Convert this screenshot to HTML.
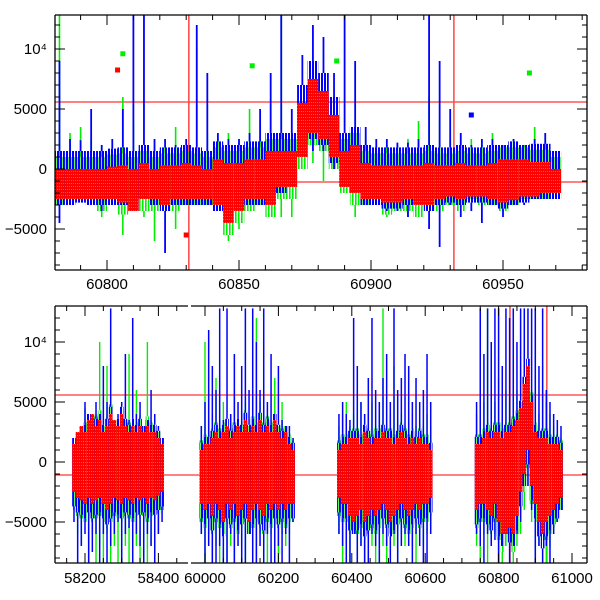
<!DOCTYPE html>
<html><head><meta charset="utf-8"><style>
html,body{margin:0;padding:0;background:#fff;}
svg{display:block;font-family:"Liberation Sans",Arial,sans-serif;}
</style></head><body>
<svg id="chart" width="600" height="600" viewBox="0 0 600 600" xmlns="http://www.w3.org/2000/svg">
<defs>
<clipPath id="clipTop"><rect x="55" y="15" width="532" height="255"/></clipPath>
<clipPath id="clipBot"><rect x="55" y="306" width="532" height="257"/></clipPath>
<pattern id="stripe-blue" width="3" height="4" patternUnits="userSpaceOnUse"><rect x="0" y="0" width="2" height="4" fill="#0000ff"/></pattern>
<pattern id="stripe-green" width="3" height="4" patternUnits="userSpaceOnUse"><rect x="1" y="0" width="1.6" height="4" fill="#00ee00"/></pattern>
<pattern id="stripe-red" width="2" height="3" patternUnits="userSpaceOnUse"><rect x="0" y="0" width="2" height="3" fill="#ff0000"/><rect x="1.4" y="0" width="0.6" height="1" fill="#ff8080"/></pattern>
</defs>
<g id="topData" clip-path="url(#clipTop)"></g>
<g id="botData" clip-path="url(#clipBot)"></g>
<g id="axes"></g>
</svg>
<script>
// ---------- TOP PANEL DATA (4-day bins, flux values) ----------
const topDays = [60782,60786,60790,60794,60798,60802,60806,60810,60814,60818,60822,60826,60830,60834,60838,60842,60846,60850,60854,60858,60862,60866,60870,60874,60878,60882,60886,60890,60894,60898,60902,60906,60910,60914,60918,60922,60926,60930,60934,60938,60942,60946,60950,60954,60958,60962,60966,60970];
const topRedLo = [-2500,-2500,-2500,-2500,-2500,-2500,-2800,-3500,-2500,-2500,-3000,-2500,-2500,-2500,-2500,-3000,-4500,-3500,-2500,-2500,-3000,-1500,-1500,1000,3000,2500,1000,-1500,-2000,-2500,-2500,-2800,-2800,-2500,-3000,-3000,-2500,-2300,-2500,-2300,-2300,-2500,-2800,-2600,-2300,-2300,-2000,-2000];
const topRedHi = [0,0,0,0,0,200,300,0,500,0,300,300,500,300,0,800,500,500,800,800,1500,1500,1500,5500,7500,6500,4500,1500,2000,500,300,300,300,300,300,500,300,300,500,300,300,500,800,800,800,600,600,0];
const topBlueLo = [-4500,-3000,-2800,-3000,-3500,-3000,-3000,-3500,-2500,-3000,-7000,-3000,-3000,-3000,-3000,-3500,-3000,-2800,-3000,-3000,-3000,-2000,-1500,1000,1500,1500,0,-1500,-2000,-3000,-3000,-3500,-3500,-4000,-3000,-5000,-6500,-3000,-4000,-3500,-4500,-3000,-4000,-3000,-3000,-2500,-2500,-2500];
const topBlueHi = [9000,2500,2400,5000,2000,2500,5000,12800,12800,2500,2500,2000,2500,12000,8000,3000,2500,2500,3000,5000,8000,12800,5000,9500,12000,11000,8000,12800,9000,3500,2500,2500,2200,2200,2500,12800,9000,5000,3000,2000,2500,2500,2000,2500,2000,2500,3000,1500];
const topGreenLo = [-3000,-2500,-2000,-2000,-4000,-2500,-5500,-3000,-4000,-6000,-3000,-5000,-3000,-3000,-3000,-3000,-6000,-5000,-3500,-3000,-4000,-4000,-4000,0,500,-1000,0,-2000,-4000,-3000,-2500,-4000,-3500,-4000,-4000,-3000,-3500,-3000,-3500,-2500,-3000,-3000,-3500,-3000,-2500,-2500,-2500,-2000];
const topGreenHi = [12800,3000,3500,2500,2000,1500,6000,4000,1500,2000,2000,3500,2500,10000,3000,2500,3000,2000,5000,4000,5500,12800,3000,4500,4500,4500,3500,2500,3500,3000,2000,2000,2000,2500,4000,6000,4000,2500,3000,2500,2000,3000,2000,2500,2000,3500,2500,1000];
const topOutDays = [60804,60806,60855,60960,60887,60938,60830];
const topOutVals = [8250,9600,8600,8000,9000,4500,-5500];
const topOutColor = ["red","green","green","green","green","blue","red"];

// ---------- BOTTOM PANEL DATA (10-day bins) ----------
const botDays = [58170,58180,58190,58200,58210,58220,58230,58240,58250,58260,58270,58280,58290,58300,58310,58320,58330,58340,58350,58360,58370,58380,58390,58400,58410,
59990,60000,60010,60020,60030,60040,60050,60060,60070,60080,60090,60100,60110,60120,60130,60140,60150,60160,60170,60180,60190,60200,60210,60220,60230,60240,
60365,60375,60385,60395,60405,60415,60425,60435,60445,60455,60465,60475,60485,60495,60505,60515,60525,60535,60545,60555,60565,60575,60585,60595,60605,60615,
60740,60750,60760,60770,60780,60790,60800,60810,60820,60830,60840,60850,60860,60870,60880,60890,60900,60910,60920,60930,60940,60950,60960,60970];
const botRedLo = [-2500,-3000,-3200,-3500,-3000,-3500,-3200,-3000,-3500,-4000,-3500,-3000,-3200,-3500,-3000,-3200,-3500,-3000,-3200,-3000,-3500,-3000,-3200,-2800,-2500,
-3500,-4000,-3500,-4500,-3500,-4000,-5000,-3500,-4000,-3500,-4500,-4000,-3500,-5000,-4000,-3500,-4000,-4500,-3500,-4000,-3500,-4000,-3500,-4000,-3500,-3500,
-3000,-3500,-3500,-4500,-5000,-4500,-4000,-5000,-4500,-4000,-4500,-4000,-3500,-4000,-5000,-4500,-4000,-3500,-4000,-4500,-4000,-3500,-4000,-3500,-3500,-3000,
-4000,-3500,-3500,-4000,-4500,-3500,-5000,-6000,-6000,-5500,-6000,-4500,-2500,-1000,1000,-2000,-3500,-5000,-6000,-5000,-4500,-4000,-3500,-3000];
const botRedHi = [1500,2500,3000,2500,3500,4000,3000,3500,2500,3000,4000,3500,3000,4000,3000,2500,3000,2500,3000,2500,3000,2500,2500,2000,1500,
1000,1500,1500,2000,2500,2000,2500,3000,2000,2500,3000,2500,3500,2500,3000,2500,3500,2500,3000,2500,3500,2500,2000,2500,1500,1000,
1000,1500,1500,2000,2000,2000,1500,2500,2000,1500,2000,2000,2500,2000,2000,1500,2000,2500,2000,1500,2000,1500,2000,1500,1500,1000,
1500,1500,2000,2500,2000,2500,2500,2000,2500,2500,3000,3500,4500,6500,8000,5000,2500,2000,2000,2000,1500,1500,1500,1000];
const botBlueLo = [-5000,-8400,-7000,-6000,-8400,-7500,-6000,-8400,-6000,-8400,-7000,-6000,-5000,-8400,-6000,-5500,-8400,-6000,-7000,-8400,-6000,-7000,-8400,-6000,-5000,
-6000,-8400,-7000,-8400,-8400,-7000,-8400,-8400,-6000,-8400,-7000,-8400,-8400,-6000,-8400,-8400,-7000,-8400,-6000,-8400,-8400,-7000,-8400,-6000,-8400,-5000,
-6000,-7000,-8400,-8400,-6000,-8400,-7000,-8400,-8400,-6000,-7000,-8400,-6000,-7000,-8400,-6000,-8400,-7000,-6000,-7000,-8400,-6000,-7000,-8400,-8400,-6000,
-6000,-7000,-8400,-6000,-7000,-6500,-8400,-7000,-6000,-8400,-7000,-6000,-5000,-2000,-2000,-4000,-8400,-7000,-8400,-7000,-8400,-6000,-5000,-4000];
const botBlueHi = [2000,2500,3000,5000,4000,3500,5000,4000,8000,5000,12800,3000,4000,5000,9000,3500,12000,4000,5000,3000,3500,6000,4000,3000,2000,
3000,5000,11000,8000,6000,12800,3500,12800,4000,9000,5000,8000,12800,6000,12800,10000,6000,12800,5000,9000,4000,8000,3500,3000,3000,2000,
4000,5000,4000,3500,12000,8000,5000,4000,7000,12000,6000,5000,7000,9000,5000,12800,6000,7000,9000,8000,5000,7000,5000,6000,9000,5000,
5000,12800,9000,12800,10000,12800,12800,8000,12800,12000,12800,10000,12800,12800,12800,12800,12800,8000,12800,6000,5000,4000,3500,3000];
const botGreenLo = [-4000,-6000,-7000,-5000,-8400,-6000,-8400,-7000,-8400,-6000,-8400,-7000,-8400,-8400,-7000,-8400,-8400,-7000,-8400,-8400,-8400,-7000,-8400,-6000,-4000,
-6000,-8400,-6000,-8400,-7000,-8400,-6000,-8400,-7000,-8400,-6000,-7000,-8400,-6000,-7000,-8400,-6000,-7000,-8400,-6000,-7000,-8400,-6000,-7000,-6000,-5000,
-6000,-8400,-7000,-8400,-6000,-8400,-7000,-8400,-6000,-7000,-8400,-6000,-7000,-8400,-6000,-7000,-8400,-6000,-7000,-6000,-7000,-8400,-6000,-7000,-6000,-5000,
-7000,-8400,-6000,-8400,-7000,-6000,-8400,-8400,-7000,-6000,-8400,-7000,-6000,-4000,-2000,-5000,-8400,-7000,-6000,-8400,-7000,-6000,-5000,-4000];
const botGreenHi = [1500,2500,3000,4500,3500,3000,4000,10000,3000,8000,5000,3500,3000,4000,3500,9000,3000,6000,4000,3000,10000,3500,3000,2500,1500,
3000,10000,6000,4000,7000,3500,5000,3000,4000,6000,3000,4000,5000,3000,4000,12000,5000,6000,4000,3500,7000,3000,5000,3000,2500,2000,
3000,4000,5000,3000,4000,6000,5000,3000,4000,5000,3000,4000,12800,3000,4000,8000,3500,4000,3000,3500,4000,3000,3500,3000,4000,3000,
4000,12800,5000,12800,6000,5000,7000,4000,6000,5000,12800,6000,5000,4000,5000,6000,12800,4000,8000,5000,4000,3000,2500,2000];

// reference lines
const hLines = [5583,-1083];
const vLineDays = [60831,60931.4];
const topXTicks = [60800,60850,60900,60950];
const botXTicks = [58200,58400,60000,60200,60400,60600,60800,61000];
const yTickVals = [-5000,0,5000,10000];
const yTickLabels = ["\u22125000","0","5000","10\u2074"];

const NS="http://www.w3.org/2000/svg";
const COL={red:"#ff0000",blue:"#0000ff",green:"#00ee00"};
function mk(tag,attrs,parent){const e=document.createElementNS(NS,tag);for(const k in attrs)e.setAttribute(k,attrs[k]);parent.appendChild(e);return e;}
const xTop=d=>107+(d-60800)*2.64;
const yTop=v=>169-v*0.012;
const xBot=d=>d<59000?85+(d-58200)*0.367:205+(d-60000)*0.367;
const yBot=v=>462-v*0.012;

function drawBins(g,days,binW,xf,yf,lo,hi,rLo,rHi,color,name,coreUp,coreDn,fill,spikeW){
  for(let i=0;i<days.length;i++){
    const x0=xf(days[i]-binW/2),x1=xf(days[i]+binW/2);
    const cHi=Math.min(hi[i],rHi[i]+coreUp), cLo=Math.max(lo[i],rLo[i]-coreDn);
    const r=mk('rect',{x:x0,y:yf(cHi),width:Math.max(1,x1-x0),height:Math.max(1,yf(cLo)-yf(cHi)),fill:fill},g);
    
    
    const xm=(x0+x1)/2;
    if(hi[i]>cHi){const l=mk('line',{x1:xm,x2:xm,y1:yf(hi[i]),y2:yf(cHi),stroke:COL[color],'stroke-width':spikeW},g);
      
      }
    if(lo[i]<cLo){const l=mk('line',{x1:xm,x2:xm,y1:yf(cLo),y2:yf(lo[i]),stroke:COL[color],'stroke-width':spikeW},g);
      
      }
  }
}
function refLines(g,yf,xf,y0,y1){
  hLines.forEach(v=>{const l=mk('line',{x1:55,x2:587,y1:yf(v),y2:yf(v),stroke:'#ff0000','stroke-width':1},g);
    
    });
  vLineDays.forEach(d=>{const l=mk('line',{x1:xf(d),x2:xf(d),y1:y0,y2:y1,stroke:'#ff4444','stroke-width':1.5},g);
    
    });
}
const gT=document.getElementById('topData'), gB=document.getElementById('botData');
refLines(gT,yTop,xTop,15,270);
drawBins(gT,topDays,4,xTop,yTop,topGreenLo,topGreenHi,topRedLo,topRedHi,'green','top-green',1000,1000,'url(#stripe-green)',1.6);
drawBins(gT,topDays,4,xTop,yTop,topBlueLo,topBlueHi,topRedLo,topRedHi,'blue','top-blue',1500,500,'url(#stripe-blue)',1.8);
drawBins(gT,topDays,4,xTop,yTop,topRedLo,topRedHi,topRedLo,topRedHi,'red','top-red',0,0,'url(#stripe-red)',2);
topOutDays.forEach((d,i)=>{const r=mk('rect',{x:xTop(d)-2.5,y:yTop(topOutVals[i])-2.5,width:5,height:5,fill:COL[topOutColor[i]]},gT);
  
  });
refLines(gB,yBot,xBot,306,563);
drawBins(gB,botDays,10,xBot,yBot,botGreenLo,botGreenHi,botRedLo,botRedHi,'green','bottom-green',800,1500,'url(#stripe-green)',1.4);
drawBins(gB,botDays,10,xBot,yBot,botBlueLo,botBlueHi,botRedLo,botRedHi,'blue','bottom-blue',600,1200,'url(#stripe-blue)',1.5);
drawBins(gB,botDays,10,xBot,yBot,botRedLo,botRedHi,botRedLo,botRedHi,'red','bottom-red',0,0,'url(#stripe-red)',1.5);

// ---------- AXES ----------
const ax=document.getElementById('axes');
function frame(y0,y1,segs){
  segs.forEach(s=>{
    [y0,y1].forEach(y=>{const l=mk('line',{x1:s[0],x2:s[1],y1:y,y2:y,stroke:'#000','stroke-width':1.3},ax);
      
      });
  });
  [55,587].forEach(x=>{const l=mk('line',{x1:x,x2:x,y1:y0,y2:y1,stroke:'#000','stroke-width':1.3},ax);
    
    });
}
function yAxis(yf,y0,y1){
  for(let v=-8000;v<=12000;v+=1000){const y=yf(v);if(y<y0||y>y1)continue;
    const len=(v%5000===0)?10:5;
    mk('line',{x1:55,x2:55+len,y1:y,y2:y,stroke:'#000'},ax);
    mk('line',{x1:587,x2:587-len,y1:y,y2:y,stroke:'#000'},ax);}
  yTickVals.forEach((v,i)=>{const t=mk('text',{x:47,y:yf(v)+5,'text-anchor':'end','font-size':15,fill:'#000'},ax);
    t.textContent=yTickLabels[i];
    
    });
}
frame(15,270,[[55,587]]);
yAxis(yTop,15,270);
for(let d=60790;d<=60980;d+=10){const x=xTop(d);const len=(d%50===0)?10:5;
  mk('line',{x1:x,x2:x,y1:270,y2:270-len,stroke:'#000'},ax);mk('line',{x1:x,x2:x,y1:15,y2:15+len,stroke:'#000'},ax);}
topXTicks.forEach(d=>{const t=mk('text',{x:xTop(d),y:289,'text-anchor':'middle','font-size':15,fill:'#000'},ax);
  t.textContent=String(d);
  
  });

frame(306,563,[[55,188],[191,587]]);
yAxis(yBot,306,563);
for(let d=58150;d<=58450;d+=50){const x=xBot(d);if(x<56||x>187)continue;const len=(d%200===0)?10:5;
  mk('line',{x1:x,x2:x,y1:563,y2:563-len,stroke:'#000'},ax);mk('line',{x1:x,x2:x,y1:306,y2:306+len,stroke:'#000'},ax);}
for(let d=60000;d<=61000;d+=50){const x=xBot(d);if(x<192||x>586)continue;const len=(d%200===0)?10:5;
  mk('line',{x1:x,x2:x,y1:563,y2:563-len,stroke:'#000'},ax);mk('line',{x1:x,x2:x,y1:306,y2:306+len,stroke:'#000'},ax);}
botXTicks.forEach(d=>{const t=mk('text',{x:xBot(d),y:583,'text-anchor':'middle','font-size':15,fill:'#000'},ax);
  t.textContent=String(d);
  
  });
</script>
</body></html>
